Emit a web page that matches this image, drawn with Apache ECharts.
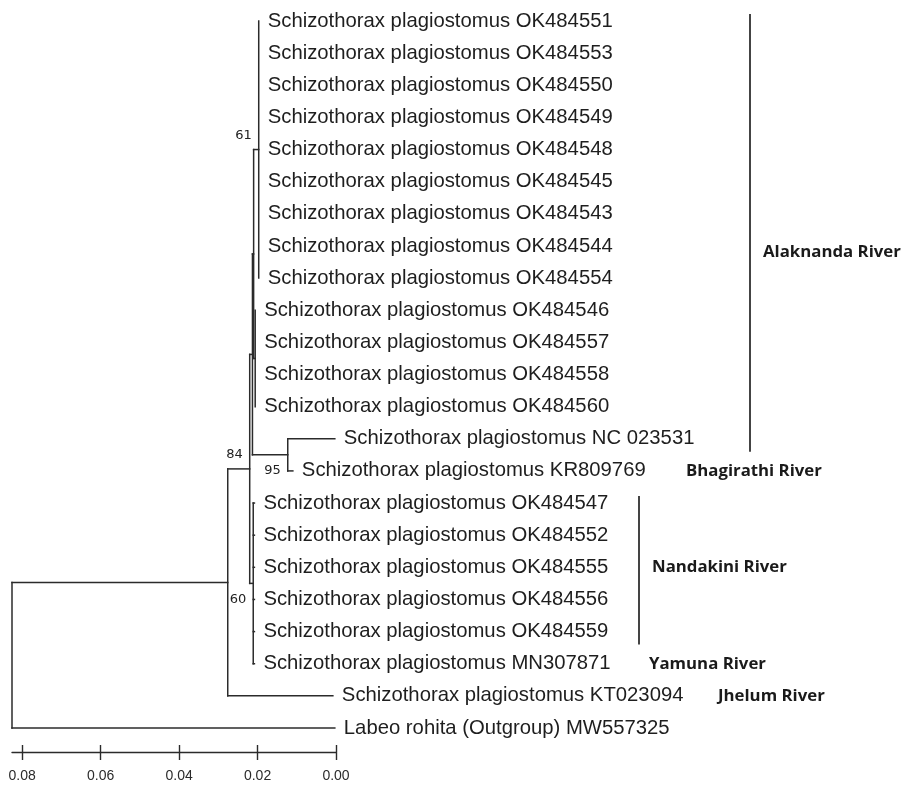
<!DOCTYPE html>
<html><head><meta charset="utf-8">
<script src="https://cdn.jsdelivr.net/npm/echarts@6/dist/echarts.min.js"></script>
<style>html,body{margin:0;padding:0;background:#fff}#c{width:901px;height:785px}</style>
</head><body><div id="c"></div>
<script>
// ---------- data ----------
const leafNames = [
  'Schizothorax plagiostomus OK484551',
  'Schizothorax plagiostomus OK484553',
  'Schizothorax plagiostomus OK484550',
  'Schizothorax plagiostomus OK484549',
  'Schizothorax plagiostomus OK484548',
  'Schizothorax plagiostomus OK484545',
  'Schizothorax plagiostomus OK484543',
  'Schizothorax plagiostomus OK484544',
  'Schizothorax plagiostomus OK484554',
  'Schizothorax plagiostomus OK484546',
  'Schizothorax plagiostomus OK484557',
  'Schizothorax plagiostomus OK484558',
  'Schizothorax plagiostomus OK484560',
  'Schizothorax plagiostomus NC 023531',
  'Schizothorax plagiostomus KR809769',
  'Schizothorax plagiostomus OK484547',
  'Schizothorax plagiostomus OK484552',
  'Schizothorax plagiostomus OK484555',
  'Schizothorax plagiostomus OK484556',
  'Schizothorax plagiostomus OK484559',
  'Schizothorax plagiostomus MN307871',
  'Schizothorax plagiostomus KT023094',
  'Labeo rohita (Outgroup) MW557325'
];
const leafParent = ['N61','N61','N61','N61','N61','N61','N61','N61','N61',
  'D','D','D','D','Bh','Bh','N60','N60','N60','N60','N60','N60','A','root'];
const leafBranch = [0,0,0,0,0,0,0,0,0, 0,0,0,0, 0.0120,0.0013,
  0.0003,0.0003,0.0003,0.0003,0.0003,0.0003, 0.0268,0.0823];

const nodeIds     = ['root','A','N84','B','C','N61','D','Bh','N60'];
const nodeParent  = [null,'root','A','N84','B','C','C','B','N84'];
const nodeBranch  = [0,0.0550,0.0056,0.0007,0.0003,0.0013,0.0004,0.0090,0.0009];
const nodeSupport = ['','','84','','','61','','95','60'];
const rootDepth = 0.0826;

const scaleTicks = [0, 0.02, 0.04, 0.06, 0.08];

const riverNames = ['Alaknanda River','Bhagirathi River','Nandakini River','Yamuna River','Jhelum River'];
const riverLabelRow = [7.2, 14, 17, 20, 21];
const riverBracketFirst = [0, null, 15, null, null];
const riverBracketLast  = [13, null, 19, null, null];

// ---------- layout of the tree (computed from the data) ----------
const nodeValue = {};
nodeIds.forEach((id, i) => {
  const p = nodeParent[i];
  nodeValue[id] = p === null ? rootDepth : nodeValue[p] - nodeBranch[i];
});
const leafValue = leafNames.map((n, i) => nodeValue[leafParent[i]] - leafBranch[i]);

const children = {};
nodeIds.forEach(id => children[id] = []);
function addChild(p, c) { if (!children[p].some(x => x.key === c.key)) children[p].push(c); }
leafNames.forEach((n, i) => {
  let child = { key: 'L' + i, leaf: i };
  let p = leafParent[i];
  while (p !== null) {
    addChild(p, child);
    const pi = nodeIds.indexOf(p);
    child = { key: p, node: p };
    p = nodeParent[pi];
  }
});
const nodeRow = {};
function rowOf(c) {
  if (c.leaf !== undefined) return c.leaf;
  const id = c.node;
  if (nodeRow[id] !== undefined) return nodeRow[id];
  const rows = children[id].map(rowOf);
  nodeRow[id] = (Math.min(...rows) + Math.max(...rows)) / 2;
  return nodeRow[id];
}
rowOf({ node: 'root' });
const valOf = c => c.leaf !== undefined ? leafValue[c.leaf] : nodeValue[c.node];

const segments = [];
nodeIds.forEach(id => {
  const ch = children[id];
  const rows = ch.map(rowOf);
  segments.push([nodeValue[id], Math.min(...rows), nodeValue[id], Math.max(...rows)]);
  ch.forEach(c => {
    const v = valOf(c);
    if (Math.abs(v - nodeValue[id]) > 1e-9) segments.push([nodeValue[id], rowOf(c), v, rowOf(c)]);
  });
});

const supportBelow = { Bh: true, N60: true };
const supportData = [];
nodeIds.forEach((id, i) => { if (nodeSupport[i]) supportData.push([nodeValue[id], nodeRow[id], i]); });

// ---------- chart ----------
const chart = echarts.init(document.getElementById('c'), null, { renderer: 'canvas' });
const lineColor = '#2b2b2b';
const treeFont = '"Liberation Sans", Arial, sans-serif';
const gridBox = { left: 12, right: 565, top: 21, bottom: 57, containLabel: false };

const axisCommon = {
  type: 'value', min: 0, max: rootDepth, inverse: true, interval: 0.02,
  position: 'bottom', offset: 24, splitLine: { show: false }
};

const option = {
  animation: false,
  backgroundColor: '#fff',
  grid: [Object.assign({}, gridBox), Object.assign({}, gridBox)],
  xAxis: [
    Object.assign({}, axisCommon, {
      gridIndex: 0,
      axisLine: { show: true, onZero: false, lineStyle: { color: lineColor, width: 1.4 } },
      axisTick: { show: true, inside: false, length: 8, customValues: scaleTicks,
                  lineStyle: { color: lineColor, width: 1.4 } },
      axisLabel: { show: true, customValues: scaleTicks, margin: 17,
                   formatter: v => v.toFixed(2), fontFamily: treeFont, fontSize: 14, color: '#2b2b2b' }
    }),
    Object.assign({}, axisCommon, {
      gridIndex: 1,
      axisLine: { show: false, onZero: false },
      axisTick: { show: true, inside: true, length: 7, customValues: scaleTicks,
                  lineStyle: { color: lineColor, width: 1.4 } },
      axisLabel: { show: false }
    })
  ],
  yAxis: [
    { gridIndex: 0, type: 'value', min: 0, max: 22, inverse: true, show: false },
    { gridIndex: 1, type: 'value', min: 0, max: 22, inverse: true, show: false }
  ],
  series: [
    {
      type: 'custom', coordinateSystem: 'cartesian2d', clip: false, silent: true,
      data: segments,
      encode: { x: [0, 2], y: [1, 3] },
      renderItem: (params, api) => {
        const p1 = api.coord([api.value(0), api.value(1)]);
        const p2 = api.coord([api.value(2), api.value(3)]);
        return { type: 'line', shape: { x1: p1[0], y1: p1[1], x2: p2[0], y2: p2[1] },
                 style: { stroke: lineColor, lineWidth: 1.5, lineCap: 'square' } };
      }
    },
    {
      type: 'custom', coordinateSystem: 'cartesian2d', clip: false, silent: true,
      data: leafNames.map((n, i) => [leafValue[i], i]),
      encode: { x: 0, y: 1 },
      renderItem: (params, api) => {
        const p = api.coord([api.value(0), api.value(1)]);
        return { type: 'text', x: p[0] + 9, y: p[1],
                 style: { text: leafNames[params.dataIndex], fontSize: 20.3, fontFamily: treeFont,
                          fill: '#1e1e1e', align: 'left', verticalAlign: 'middle' } };
      }
    },
    {
      type: 'custom', coordinateSystem: 'cartesian2d', clip: false, silent: true,
      data: supportData,
      encode: { x: 0, y: 1 },
      renderItem: (params, api) => {
        const p = api.coord([api.value(0), api.value(1)]);
        const idx = supportData[params.dataIndex][2];
        const below = !!supportBelow[nodeIds[idx]];
        return { type: 'text', x: p[0] - 7, y: p[1] + (below ? 16 : -14),
                 style: { text: nodeSupport[idx], fontSize: 13,
                          fontFamily: '"DejaVu Sans", sans-serif', fill: '#222',
                          align: 'right', verticalAlign: 'middle' } };
      }
    },
    {
      type: 'custom', coordinateSystem: 'cartesian2d', clip: false, silent: true,
      data: riverNames.map((n, i) => [0, riverLabelRow[i]]),
      encode: { x: 0, y: 1 },
      renderItem: (params, api) => {
        const i = params.dataIndex;
        const labelX = [763, 686, 652, 649, 718][i];
        const barX = [750, null, 639, null, null][i];
        const y = api.coord([0, riverLabelRow[i]])[1];
        const kids = [{ type: 'text', x: labelX, y: y,
          style: { text: riverNames[i], fontSize: 16.8, fontWeight: 'bold',
                   fontFamily: '"Open Sans", sans-serif', fill: '#1a1a1a',
                   align: 'left', verticalAlign: 'middle' } }];
        if (riverBracketFirst[i] !== null) {
          const y1 = api.coord([0, riverBracketFirst[i] - 0.22])[1];
          const y2 = api.coord([0, riverBracketLast[i] + 0.4])[1];
          kids.push({ type: 'line', shape: { x1: barX, y1: y1, x2: barX, y2: y2 },
                      style: { stroke: '#444', lineWidth: 2 } });
        }
        return { type: 'group', children: kids };
      }
    }
  ]
};
chart.setOption(option);
</script></body></html>
